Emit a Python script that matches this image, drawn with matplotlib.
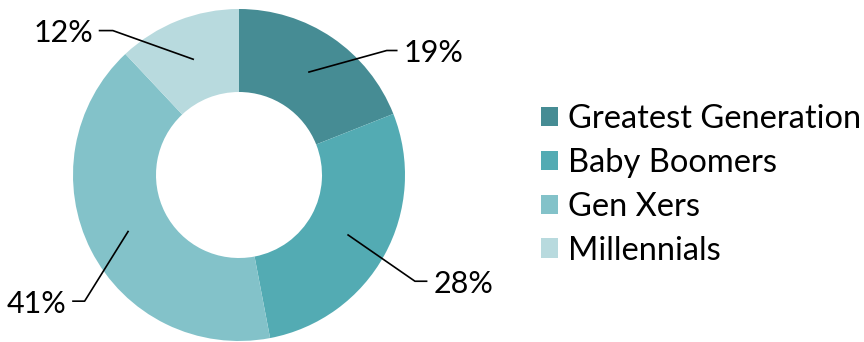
import numpy as np
import matplotlib.pyplot as plt

# share of each generation
labels = ['Greatest Generation', 'Baby Boomers', 'Gen Xers', 'Millennials']
shares = [19, 28, 41, 12]
colors = ['#468C94', '#53ABB3', '#83C2C9', '#B8DADE']

plt.rcParams['font.family'] = ['Lato', 'DejaVu Sans']

fig = plt.figure(figsize=(8.64, 3.42), dpi=100)
ax = fig.add_axes([73 / 864, 1 / 342, 332 / 864, 332 / 342])

wedges, _ = ax.pie(shares, colors=colors, startangle=90, counterclock=False,
                   radius=1, wedgeprops=dict(width=0.5, linewidth=0))
ax.set_xlim(-1, 1)
ax.set_ylim(-1, 1)
ax.set_aspect('equal')
ax.axis('off')

# leader lines: elbow point and end of the short horizontal stub (axes data units)
elbows = [(0.89, 0.75), (1.06, -0.64), (-0.93, -0.76), (-0.76, 0.87)]
stubs = [(0.95, 0.75), (1.13, -0.64), (-1.0, -0.76), (-0.84, 0.87)]

for w, s, e, st in zip(wedges, shares, elbows, stubs):
    mid = np.deg2rad((w.theta1 + w.theta2) / 2)
    x0, y0 = 0.75 * np.cos(mid), 0.75 * np.sin(mid)
    ax.plot([x0, e[0], st[0]], [y0, e[1], st[1]], color='black', lw=1.2,
            clip_on=False)
    right = st[0] > 0
    ax.text(st[0] + (0.04 if right else -0.04), st[1] - 0.015, f'{s}%',
            ha='left' if right else 'right', va='center', fontsize=22,
            clip_on=False)

fig.legend(wedges, labels, loc='center left', bbox_to_anchor=(541 / 864, 157 / 342),
           frameon=False, fontsize=23.5, handlelength=0.52, handleheight=0.52,
           handletextpad=0.3, labelspacing=0.42, borderpad=0, borderaxespad=0)

fig.savefig('out.png', dpi=100)
